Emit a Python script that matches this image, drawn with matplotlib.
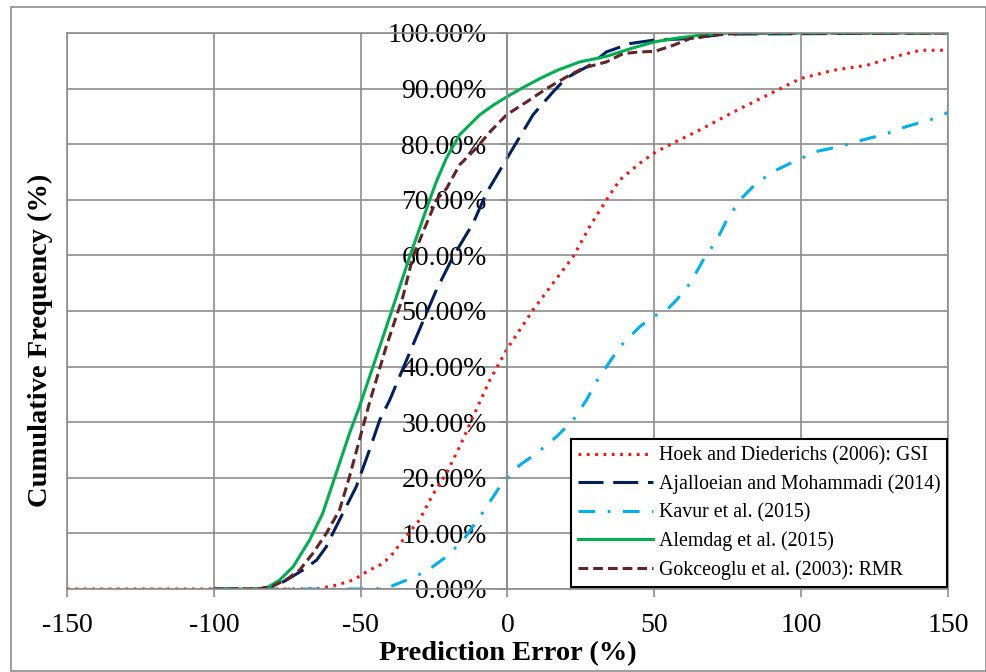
import matplotlib
matplotlib.use("Agg")
import matplotlib.pyplot as plt
from matplotlib.ticker import FuncFormatter, MultipleLocator
from matplotlib.patches import Rectangle

plt.rcParams['font.family'] = ['Liberation Serif', 'DejaVu Serif']
plt.rcParams['axes.unicode_minus'] = False
plt.rcParams['lines.scale_dashes'] = False

# ---- data (prediction error %, cumulative frequency %) ----
hoek_x = [-150, -70, -64, -58.3, -52.6, -47, -42.4, -39, -35.6, -30, -25.4, -20.8, -16.3, -11.7, -6, 0,
          4.2, 8.7, 15.5, 22.4, 28, 33.7, 38.3, 45.1, 50.8, 58.7, 65.6, 77, 88.4, 99.7, 111, 122.4,
          133.8, 140.6, 150]
hoek_y = [0, 0, 0.1, 0.7, 1.6, 3.4, 4.6, 6.4, 8.8, 12.4, 17, 20.8, 25.6, 31, 37.6, 43.3,
          46.6, 50.2, 55, 59.8, 65.2, 70, 73.6, 76.6, 78.7, 80.8, 82.6, 85.8, 88.8, 91.8, 93.3, 94.2,
          96, 96.9, 96.9]

ajal_x = [-100, -85, -80, -75.3, -69.7, -65, -61.7, -59.5, -53.8, -51.5, -47, -43.5, -40.1, -31, -24.2,
          -18.5, -11.7, -7.2, 1.9, 8.7, 15.5, 20, 28, 33.7, 41.7, 49.6, 62, 73.5, 150]
ajal_y = [0, 0, 0.3, 1.6, 3.4, 5.2, 7.6, 10, 16, 18.4, 25, 30.4, 34, 45.4, 53.8,
          59.8, 65.8, 71.2, 79.3, 85.3, 89.4, 91.9, 94.2, 96.6, 98.1, 98.7, 99, 99.8, 100]

kavur_x = [-100, -45, -40, -34.4, -27.6, -20.8, -15.1, -9.4, -2.6, 0, 4.2, 9.9, 16.7, 22.4, 26.9, 30.3,
           38.3, 45.1, 49.6, 54.2, 57.6, 62.2, 66.7, 71.3, 74.7, 79.2, 84.6, 90.6, 98, 105.3, 113.3,
           121.2, 128.6, 136, 144, 150]
kavur_y = [0, 0, 0.4, 1.6, 3.2, 5.8, 8.8, 13, 18.4, 20, 22.3, 24.4, 27.4, 30.4, 34, 37.3,
           43.6, 47.2, 49, 50.2, 52, 55, 59.2, 62.8, 66.4, 70, 72.9, 75.1, 77, 78.7, 79.6,
           80.8, 81.8, 83.2, 84.4, 85.7]

alem_x = [-100, -85, -82, -77.6, -73, -67.4, -63, -59.5, -53.8, -50.4, -43.5, -37.8, -33.3, -26.5, -24.2,
          -20.8, -16.3, -9.4, -4.9, 0, 5, 11, 17, 24.6, 33.7, 42, 50, 58, 65.6, 75, 150]
alem_y = [0, 0, 0.2, 1.6, 4, 8.8, 13.5, 19, 28, 32.8, 43.6, 52.6, 59.8, 70, 73.3,
          77.5, 81.7, 85.3, 87, 88.6, 90.1, 91.8, 93.3, 94.8, 95.8, 97.2, 98.4, 99.1, 99.6, 100, 100]

gok_x = [-100, -85, -80, -75, -70.8, -66.3, -61.7, -57.2, -53.8, -49.2, -47, -41.3, -35.6, -32.2, -24.2,
         -20.8, -16.3, -10.6, -6, -0.3, 6.5, 13.3, 20.1, 25.8, 33.7, 39.4, 45.1, 50.2, 56.5, 62.2, 70, 80, 150]
gok_y = [0, 0, 0.5, 1.8, 3.4, 6.4, 10, 14.2, 20.2, 29.2, 33.5, 43.6, 52.6, 59.8, 70,
         72, 76.3, 79.3, 82.2, 85.3, 87.6, 90, 92.1, 93.7, 94.8, 96.3, 96.6, 96.7, 97.8, 99, 99.6, 100, 100]

labels = ["Hoek and Diederichs (2006): GSI", "Ajalloeian and Mohammadi (2014)",
          "Kavur et al. (2015)", "Alemdag et al. (2015)", "Gokceoglu et al. (2003): RMR"]

x_ticks = [-150, -100, -50, 0, 50, 100, 150]

GRID = '#8c8c8c'

fig = plt.figure(figsize=(9.87, 6.72), dpi=100)
ax = fig.add_axes([67/987, 1-589/672, (948-67)/987, (589-33)/672])

lw = 2.2
ax.plot(hoek_x, hoek_y, color='#FF1010', lw=lw, linestyle=(0, (2.0, 4.0)), dash_capstyle='butt',
        label=labels[0])
ax.plot(ajal_x, ajal_y, color='#002060', lw=lw, linestyle=(0, (18, 7)), label=labels[1])
ax.plot(kavur_x, kavur_y, color='#00B0F0', lw=lw, linestyle=(0, (12, 9, 2, 9)), label=labels[2])
ax.plot(alem_x, alem_y, color='#00B050', lw=lw, linestyle='-', label=labels[3])
ax.plot(gok_x, gok_y, color='#632523', lw=lw, linestyle=(0, (7, 3.6)), label=labels[4])

ax.set_xlim(-150, 150)
ax.set_ylim(0, 100)
ax.set_xticks(x_ticks)
ax.yaxis.set_major_locator(MultipleLocator(10))
ax.yaxis.set_major_formatter(FuncFormatter(lambda v, p: f"{v:.2f}%"))

ax.grid(True, color=GRID, lw=1.2)
ax.set_axisbelow(True)
for s in ['top', 'right', 'bottom']:
    ax.spines[s].set_color(GRID)
    ax.spines[s].set_linewidth(1.2)
ax.spines['left'].set_position(('data', 0))
ax.spines['left'].set_color(GRID)
ax.spines['left'].set_linewidth(1.2)
ax.axvline(-150, color=GRID, lw=1.2, clip_on=False, zorder=0.5)

ax.tick_params(axis='x', direction='out', length=6, width=1.2, color=GRID, pad=11, labelsize=20)
ax.tick_params(axis='y', direction='out', length=5, width=1.2, color=GRID, pad=10, labelsize=20)

fig.text(40/987, 1-340/672, "Cumulative Frequency (%)", rotation=90, ha='center', va='center',
         fontsize=20.5, fontweight='bold')
fig.text(508/987, 1-654/672, "Prediction Error (%)", ha='center', va='center',
         fontsize=20.5, fontweight='bold')

leg = ax.legend(loc='lower right', bbox_to_anchor=(0.999, 0.004), fontsize=14.3, frameon=True,
                fancybox=False, edgecolor='black', framealpha=1, handlelength=3.75,
                handletextpad=0.3, labelspacing=0.45, borderpad=0.35, borderaxespad=0)
leg.get_frame().set_linewidth(1.5)

fig.patches.append(Rectangle((11/987, 1-671/672), (986-11)/987, (671-7)/672,
                             transform=fig.transFigure, fill=False, edgecolor=GRID, lw=1.2))

fig.savefig("out.png", dpi=100)
